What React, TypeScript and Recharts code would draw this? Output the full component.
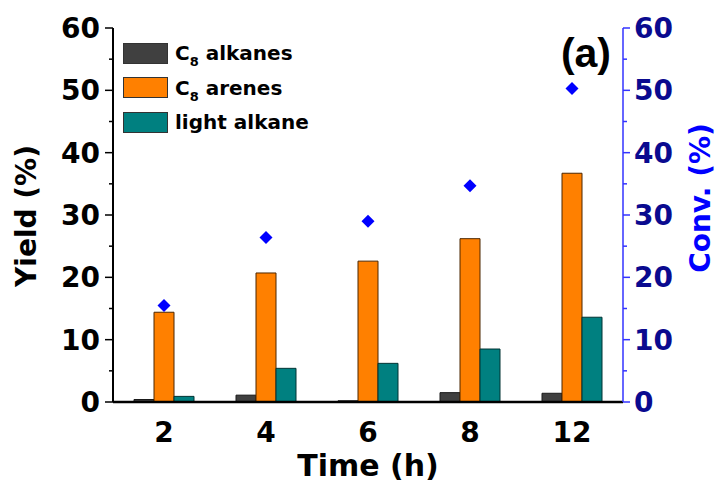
import React from 'react';
import {
  ComposedChart,
  Bar,
  Scatter,
  XAxis,
  YAxis,
  Legend,
  Customized,
} from 'recharts';

// reaction time (h)
const times = ['2', '4', '6', '8', '12'];
// yields (%)
const c8Alkanes = [0.4, 1.1, 0.2, 1.5, 1.4];
const c8Arenes = [14.4, 20.7, 22.6, 26.2, 36.7];
const lightAlkane = [0.9, 5.4, 6.2, 8.5, 13.6];
// conversion (%)
const conversion = [15.5, 26.4, 29.0, 34.7, 50.3];

const yTicks = [0, 5, 10, 15, 20, 25, 30, 35, 40, 45, 50, 55, 60];
const seriesNames = ['C₈ alkanes', 'C₈ arenes', 'light alkane'];

const data = times.map((t, i) => ({
  time: t,
  alkanes: c8Alkanes[i],
  arenes: c8Arenes[i],
  light: lightAlkane[i],
  conv: conversion[i],
}));

const FONT = '"DejaVu Sans", sans-serif';

const LeftTick = (props: any) => {
  const { x, y, payload } = props;
  const major = payload.value % 10 === 0;
  return (
    <g>
      <line x1={x - (major ? 8 : 4)} x2={x} y1={y} y2={y} stroke="#000" strokeWidth={1.5} />
      {major && (
        <text x={x - 13} y={y} dy="0.36em" textAnchor="end" fontFamily={FONT} fontWeight="bold" fontSize={28} fill="#000">
          {payload.value}
        </text>
      )}
    </g>
  );
};

const RightTick = (props: any) => {
  const { x, y, payload } = props;
  const major = payload.value % 10 === 0;
  return (
    <g>
      <line x1={x} x2={x + (major ? 7 : 4)} y1={y} y2={y} stroke="#3333ff" strokeWidth={1.5} />
      {major && (
        <text x={x + 11} y={y} dy="0.36em" textAnchor="start" fontFamily={FONT} fontWeight="bold" fontSize={28} fill="#0a0a8f">
          {payload.value}
        </text>
      )}
    </g>
  );
};

const Diamond = (props: any) => {
  const { cx, cy } = props;
  const r = 6.5;
  return (
    <polygon
      points={`${cx},${cy - r} ${cx + r},${cy} ${cx},${cy + r} ${cx - r},${cy}`}
      fill="#0000ff"
    />
  );
};

// "C₈ ..." -> C with a lowered 8
const legendLabel = (text: string) => {
  if (text.startsWith('C₈')) {
    return (
      <>
        C<span style={{ fontSize: 13, position: 'relative', top: 6 }}>8</span>
        {text.slice(2)}
      </>
    );
  }
  return text;
};

const renderLegend = (props: any) => {
  const payload = (props.payload || []).filter((e: any) => e.dataKey !== 'conv');
  return (
    <div style={{ fontFamily: FONT }}>
      {payload.map((entry: any) => (
        <div key={entry.value} style={{ display: 'flex', alignItems: 'center', height: 34.5 }}>
          <div
            style={{
              width: 43,
              height: 19,
              background: entry.color,
              border: '1px solid #333',
              marginRight: 7,
            }}
          />
          <span style={{ fontSize: 20, fontWeight: 'bold', color: '#000', whiteSpace: 'nowrap' }}>
            {legendLabel(entry.value)}
          </span>
        </div>
      ))}
    </div>
  );
};

export default function App() {
  return (
    <div style={{ position: 'absolute', left: 0, top: 0 }}>
      <ComposedChart
        width={726}
        height={485}
        data={data}
        margin={{ top: 28, right: 0, bottom: 0, left: 0 }}
        barGap={0}
      >
        <XAxis
          xAxisId="top"
          orientation="top"
          dataKey="time"
          height={0}
          tick={false}
          axisLine={{ stroke: '#000', strokeWidth: 1 }}
        />
        <XAxis
          xAxisId="bottom"
          dataKey="time"
          height={83}
          tickLine={false}
          tickSize={0}
          tickMargin={20}
          axisLine={{ stroke: '#000', strokeWidth: 2.5 }}
          tick={{ fontFamily: FONT, fontWeight: 'bold', fontSize: 28, fill: '#000' }}
          label={{
            content: () => (
              <text x={368} y={476} textAnchor="middle" fontFamily={FONT} fontWeight="bold" fontSize={30} fill="#000">
                Time (h)
              </text>
            ),
          }}
        />
        <YAxis
          yAxisId="left"
          width={113}
          domain={[0, 60]}
          ticks={yTicks}
          interval={0}
          tickLine={false}
          tickSize={0}
          tickMargin={0}
          tick={<LeftTick />}
          axisLine={{ stroke: '#000', strokeWidth: 2 }}
          label={{
            content: () => (
              <text
                transform="translate(36, 216) rotate(-90)"
                textAnchor="middle"
                fontFamily={FONT}
                fontWeight="bold"
                fontSize={28}
                fill="#000"
              >
                Yield (%)
              </text>
            ),
          }}
        />
        <YAxis
          yAxisId="right"
          orientation="right"
          width={103}
          domain={[0, 60]}
          ticks={yTicks}
          interval={0}
          tickLine={false}
          tickSize={0}
          tickMargin={0}
          tick={<RightTick />}
          axisLine={{ stroke: '#3333ff', strokeWidth: 1.5 }}
          label={{
            content: () => (
              <text
                transform="translate(710, 198) rotate(-90)"
                textAnchor="middle"
                fontFamily={FONT}
                fontWeight="bold"
                fontSize={28}
                fill="#0000ff"
              >
                Conv. (%)
              </text>
            ),
          }}
        />
        <Legend
          layout="vertical"
          align="center"
          verticalAlign="middle"
          content={renderLegend}
          wrapperStyle={{ top: 36, left: 123 }}
        />
        <Bar
          xAxisId="bottom"
          yAxisId="left"
          dataKey="alkanes"
          name={seriesNames[0]}
          fill="#404040"
          stroke="#1a1a1a"
          strokeWidth={1}
          barSize={20}
          isAnimationActive={false}
        />
        <Bar
          xAxisId="bottom"
          yAxisId="left"
          dataKey="arenes"
          name={seriesNames[1]}
          fill="#ff8000"
          stroke="#4d2600"
          strokeWidth={1}
          barSize={20}
          isAnimationActive={false}
        />
        <Bar
          xAxisId="bottom"
          yAxisId="left"
          dataKey="light"
          name={seriesNames[2]}
          fill="#008080"
          stroke="#003333"
          strokeWidth={1}
          barSize={20}
          isAnimationActive={false}
        />
        <Scatter
          xAxisId="bottom"
          yAxisId="right"
          dataKey="conv"
          name="Conv."
          fill="#0000ff"
          shape={<Diamond />}
          legendType="none"
          isAnimationActive={false}
        />
        <Customized
          component={() => (
            <text x={611} y={67} textAnchor="end" fontFamily='"Liberation Sans", Arial, sans-serif' fontWeight="bold" fontSize={41} fill="#000">
              (a)
            </text>
          )}
        />
      </ComposedChart>
    </div>
  );
}
